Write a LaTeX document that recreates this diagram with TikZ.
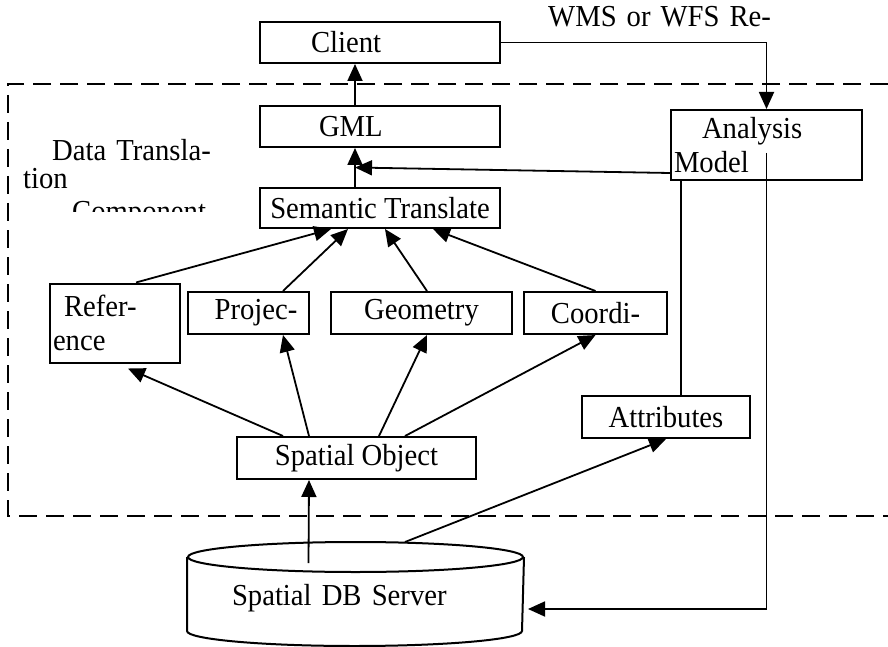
\documentclass[tikz,border=0pt]{standalone}
\usepackage{fontspec}
\setmainfont{Liberation Serif}[FakeStretch=0.94]
\usetikzlibrary{arrows.meta,calc}

\begin{document}
\begin{tikzpicture}[x=1pt, y=-1pt,
    procbox/.style={rectangle, draw, line width=2pt, minimum height=41pt, inner xsep=3pt, inner ysep=2pt,
      font=\fontsize{30.5}{34}\selectfont},
    conn/.style={line width=1.8pt}
  ]
    \useasboundingbox (0,0) rectangle (888,647);

    \node[procbox, minimum width=240pt, text width=234pt, align=left] (client) at (380,42.5) {\hspace*{48pt}Client};
    \node[procbox, minimum width=240pt, text width=234pt, align=left] (gml) at (380,126.5) {\hspace*{56pt}GML};
    \node[procbox, minimum width=240pt, minimum height=40pt] (sem) at (380,208) {Semantic Translate};
    \node[procbox, minimum width=191pt, minimum height=70pt, text width=185pt, align=left] (analysis) at (766.5,145) {\hspace*{28pt}Analysis\\Model};
    \node[procbox, minimum width=130pt, minimum height=79pt, text width=124pt, align=left] (ref) at (115,323) {\hspace*{11pt}Refer-\\ence};
    \node[procbox, minimum width=121pt, minimum height=42pt] (proj) at (248.5,313) {\hspace*{15pt}Projec-};
    \node[procbox, minimum width=181pt, minimum height=42pt] (geom) at (421.5,313) {Geometry};
    \node[procbox, minimum width=143pt, minimum height=42pt] (coord) at (595.5,313) {Coordi-};
    \node[procbox, minimum width=168pt, minimum height=42pt] (attr) at (666,417) {Attributes};
    \node[procbox, minimum width=239pt, minimum height=42pt] (sobj) at (356.5,458) {Spatial Object};
    \node[procbox, draw=none, minimum width=335pt, minimum height=102pt, text width=329pt, text height=30pt, align=left] (db) at (355.5,594) {\hspace*{41pt}Spatial DB Server};
    \node[font=\fontsize{30.5}{34}\selectfont, anchor=base west, inner sep=0pt] (req) at (548,27) {WMS\hspace{10pt}or\hspace{10pt}WFS\hspace{10pt}Re-};

    \begin{scope}
      \clip (10,100) rectangle (250,211);
      \node[font=\fontsize{30.5}{28}\selectfont, anchor=base west, inner sep=0pt, align=left] (dtc) at (23,222)
        {\hspace*{29pt}Data\hspace{10pt}Transla-\\tion\\[5pt]\hspace*{49pt}Component};
    \end{scope}

    \draw[line width=2pt, dash pattern=on 18pt off 9pt] (888,84) -- (8,84) -- (8,516) -- (888,516);

    \draw[line width=2pt] ([yshift=-15pt]db.north) ellipse [x radius=167.5pt, y radius=15pt];
    \draw[line width=2pt] ([yshift=-15pt]db.north west) -- ([yshift=15pt]db.south west)
      arc[start angle=180, end angle=360, x radius=167.5pt, y radius=15pt] -- ([yshift=-15pt]db.north east);

    \coordinate (jn) at ($(gml.south)!.5!(sem.north)+(-25,0)$);

    \draw[conn, -{Triangle[length=17pt,width=15pt]}] ([xshift=-25pt]gml.north) -- ([xshift=-25pt]client.south);
    \draw[conn, -{Triangle[length=17pt,width=15pt]}] (client.east) -| (analysis.north);
    \draw[conn, -{Triangle[length=17pt,width=15pt]}] ([xshift=-25pt]sem.north) -- ([xshift=-25pt]gml.south);
    \draw[conn, -{Triangle[length=17pt,width=15pt]}] ([yshift=-28pt]analysis.west) -- (jn);
    \draw[conn] ([xshift=-85.5pt]analysis.south) -- ([xshift=-85.5pt]analysis.south |- attr.north);
    \draw[conn, -{Triangle[length=17pt,width=15pt]}] ([yshift=-8pt]analysis.center) |- ([xshift=4pt,yshift=-15pt]db.east);

    \draw[conn, -{Triangle[length=17pt,width=15pt]}] ([xshift=21pt]ref.north) -- ([xshift=-49pt]sem.south);
    \draw[conn, -{Triangle[length=17pt,width=15pt]}] ([xshift=34.5pt]proj.north) -- ([xshift=-32pt]sem.south);
    \draw[conn, -{Triangle[length=17pt,width=15pt]}] ([xshift=5.5pt]geom.north) -- ([xshift=5pt]sem.south);
    \draw[conn, -{Triangle[length=17pt,width=15pt]}] (coord.north) -- ([xshift=53pt]sem.south);

    \draw[conn, -{Triangle[length=17pt,width=15pt]}] ([xshift=-73.5pt]sobj.north) -- ([xshift=13pt,yshift=-5pt]ref.south);
    \draw[conn, -{Triangle[length=17pt,width=15pt]}] ([xshift=-47.5pt]sobj.north) -- ([xshift=34.5pt]proj.south);
    \draw[conn, -{Triangle[length=17pt,width=15pt]}] ([xshift=22.5pt]sobj.north) -- ([xshift=5.5pt]geom.south);
    \draw[conn, -{Triangle[length=17pt,width=15pt]}] ([xshift=48.5pt]sobj.north) -- (coord.south);

    \draw[conn, -{Triangle[length=17pt,width=15pt]}] ([xshift=-47pt,yshift=31pt]db.center) -- ([xshift=-47.5pt]sobj.south);
    \draw[conn, -{Triangle[length=17pt,width=15pt]}] ([xshift=49.5pt]db.north) -- (attr.south);
  \end{tikzpicture}
\end{document}
